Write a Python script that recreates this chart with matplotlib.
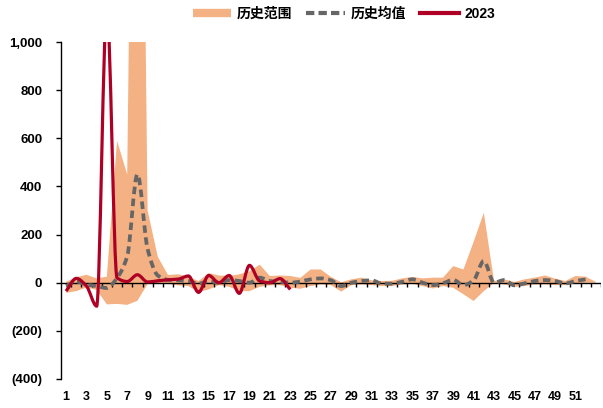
import matplotlib
matplotlib.use("Agg")
import matplotlib.pyplot as plt
import numpy as np
from matplotlib.lines import Line2D
from matplotlib.patches import PathPatch
from matplotlib.path import Path
from matplotlib.ticker import FuncFormatter

weeks = np.arange(1, 54)

# historical range (max / min) per week
band_max = [4, 23, 33, 18, 25, 590, 450, 4000, 300, 108,
            32, 35, 25, 7, 40, 30, 28, 35, 48, 75,
            28, 30, 28, 20, 55, 55, 24, 2, 14, 21,
            10, 7, 8, 18, 24, 18, 21, 21, 69, 55,
            170, 291, 7, 14, 3, 14, 21, 30, 17, 7,
            28, 25, 3]
band_min = [-42, -35, -20, -30, -90, -88, -92, -75, -5, -5,
            -5, -11, -14, -39, -28, -10, -17, -35, -35, -17,
            -11, -10, -21, -25, -14, -7, -10, -37, -10, -7,
            -10, -14, -14, -7, -5, -14, -24, -14, -21, -48,
            -76, -35, 0, -7, -17, -14, -7, -7, -10, -10,
            -3, 0, 0]

# historical mean, weeks 1-52
hist_mean = [-14, 5, -8, -14, -22, 20, 110, 450, 140, 30,
             12, 10, 7, -4, 7, 0, 11, 7, 0, 21,
             7, 4, 0, 5, 14, 18, 10, -14, 0, 7,
             10, -4, -4, 4, 14, 0, -10, -2, 12, -10,
             10, 90, 0, 11, -11, -3, 7, 11, 7, -3,
             7, 14]

# 2023, weeks 1-23
y2023 = [-35, 18, -14, -97, 1150, 20, 5, 33, 3, 8,
         12, 15, 28, -40, 30, 0, 30, -44, 72, 7,
         0, 17, -28]

ORANGE = "#F4B183"
GREY = "#666666"
RED = "#AE0025"


def smooth_path(x, y):
    # monotone cubic through the points, drawn as bezier segments
    x = np.asarray(x, float)
    y = np.asarray(y, float)
    d = np.diff(y) / np.diff(x)
    m = np.zeros_like(y)
    m[0], m[-1] = d[0], d[-1]
    for i in range(1, len(y) - 1):
        if d[i - 1] * d[i] > 0:
            m[i] = 2 / (1 / d[i - 1] + 1 / d[i])
    verts = [(x[0], y[0])]
    codes = [Path.MOVETO]
    for i in range(len(x) - 1):
        h = x[i + 1] - x[i]
        verts += [(x[i] + h / 3, y[i] + m[i] * h / 3),
                  (x[i + 1] - h / 3, y[i + 1] - m[i + 1] * h / 3),
                  (x[i + 1], y[i + 1])]
        codes += [Path.CURVE4] * 3
    return Path(verts, codes)


plt.rcParams["font.family"] = ["Liberation Sans", "Noto Sans CJK SC"]

fig = plt.figure(figsize=(6.03, 4.08), dpi=100)
ax = fig.add_axes([61 / 603, 29 / 408, 540 / 603, 337 / 408])

ax.fill_between(weeks, band_min, band_max, color=ORANGE, lw=0, zorder=1)

# zero line with category ticks hanging below it
ax.axhline(0, color="black", lw=1, zorder=2)
bounds = np.arange(1.5, 54, 1.0)
ax.vlines(bounds, -18, 0, color="black", lw=1, zorder=2)

ax.add_patch(PathPatch(smooth_path(weeks[:len(hist_mean)], hist_mean),
                       fill=False, edgecolor=GREY, lw=2.7,
                       linestyle=(0, (2.0, 1.2)), capstyle="butt", zorder=3))
ax.add_patch(PathPatch(smooth_path(weeks[:len(y2023)], y2023),
                       fill=False, edgecolor=RED, lw=2.3, zorder=4))

ax.set_xlim(0.5, 53.5)
ax.set_ylim(-400, 1000)
ax.set_yticks(np.arange(-400, 1001, 200))
ax.yaxis.set_major_formatter(FuncFormatter(
    lambda v, p: f"({abs(v):,.0f})" if v < 0 else f"{v:,.0f}"))
ax.set_xticks(weeks[:51:2])
ax.tick_params(axis="x", length=0, pad=8.5, labelsize=9)
ax.tick_params(axis="y", length=3.5, width=1, direction="out", pad=10, labelsize=9.5)
for lab in ax.get_xticklabels() + ax.get_yticklabels():
    lab.set_fontweight("bold")

for s in ["top", "right", "bottom"]:
    ax.spines[s].set_visible(False)
ax.spines["left"].set_linewidth(1)

handles = [
    Line2D([], [], color=ORANGE, lw=6, solid_capstyle="butt"),
    Line2D([], [], color=GREY, lw=3, linestyle=(0, (2.0, 1.0))),
    Line2D([], [], color=RED, lw=3),
]
fig.legend(handles, ["历史范围", "历史均值", "2023"], loc="center",
           bbox_to_anchor=(344 / 603, 1 - 14 / 408), ncol=3, frameon=False,
           handlelength=2.8, handletextpad=0.4, columnspacing=1.0,
           prop={"family": ["Liberation Sans", "Noto Sans CJK SC"],
                 "weight": "bold", "size": 10})

fig.savefig("out.png", dpi=100)
